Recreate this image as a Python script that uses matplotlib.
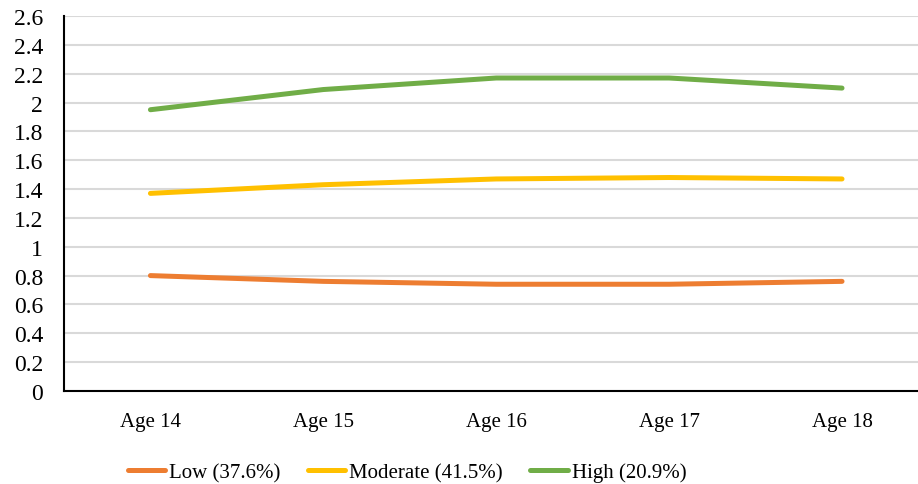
import matplotlib
matplotlib.use("Agg")
import matplotlib.pyplot as plt
from matplotlib.ticker import FuncFormatter, MultipleLocator

ages = ["Age 14", "Age 15", "Age 16", "Age 17", "Age 18"]
low = [0.80, 0.76, 0.74, 0.74, 0.76]
moderate = [1.37, 1.43, 1.47, 1.48, 1.47]
high = [1.95, 2.09, 2.17, 2.17, 2.10]
labels = ["Low (37.6%)", "Moderate (41.5%)", "High (20.9%)"]
colors = ["#ED7D31", "#FFC000", "#70AD47"]

plt.rcParams["font.family"] = ["Liberation Serif", "DejaVu Serif"]

fig = plt.figure(figsize=(9.18, 4.85), dpi=100)
ax = fig.add_axes([0.0697, 0.1918, 0.9417, 0.7732])

x = range(len(ages))
for vals, lab, col in zip([low, moderate, high], labels, colors):
    ax.plot(x, vals, color=col, lw=3.6, label=lab,
            solid_capstyle="round", solid_joinstyle="round")

ax.set_xlim(-0.5, len(ages) - 0.5)
ax.set_ylim(0, 2.6)
ax.yaxis.set_major_locator(MultipleLocator(0.2))
ax.yaxis.set_major_formatter(FuncFormatter(lambda v, p: f"{round(v, 1):g}"))
ax.set_xticks(list(x))
ax.set_xticklabels(ages)

ax.grid(axis="y", color="#D9D9D9", lw=1.5)
ax.set_axisbelow(True)
for side in ["top", "right"]:
    ax.spines[side].set_visible(False)
for side in ["left", "bottom"]:
    ax.spines[side].set_color("black")
    ax.spines[side].set_linewidth(1.5)

ax.tick_params(axis="y", length=0, pad=15, labelsize=17)
ax.tick_params(axis="x", length=0, pad=15, labelsize=15)

fig.legend(loc="center left", bbox_to_anchor=(0.13, 0.024), ncol=3,
           frameon=False, fontsize=15, handlelength=1.8, handletextpad=0.2,
           columnspacing=1.3, borderaxespad=0)

fig.savefig("out.png", dpi=100)
